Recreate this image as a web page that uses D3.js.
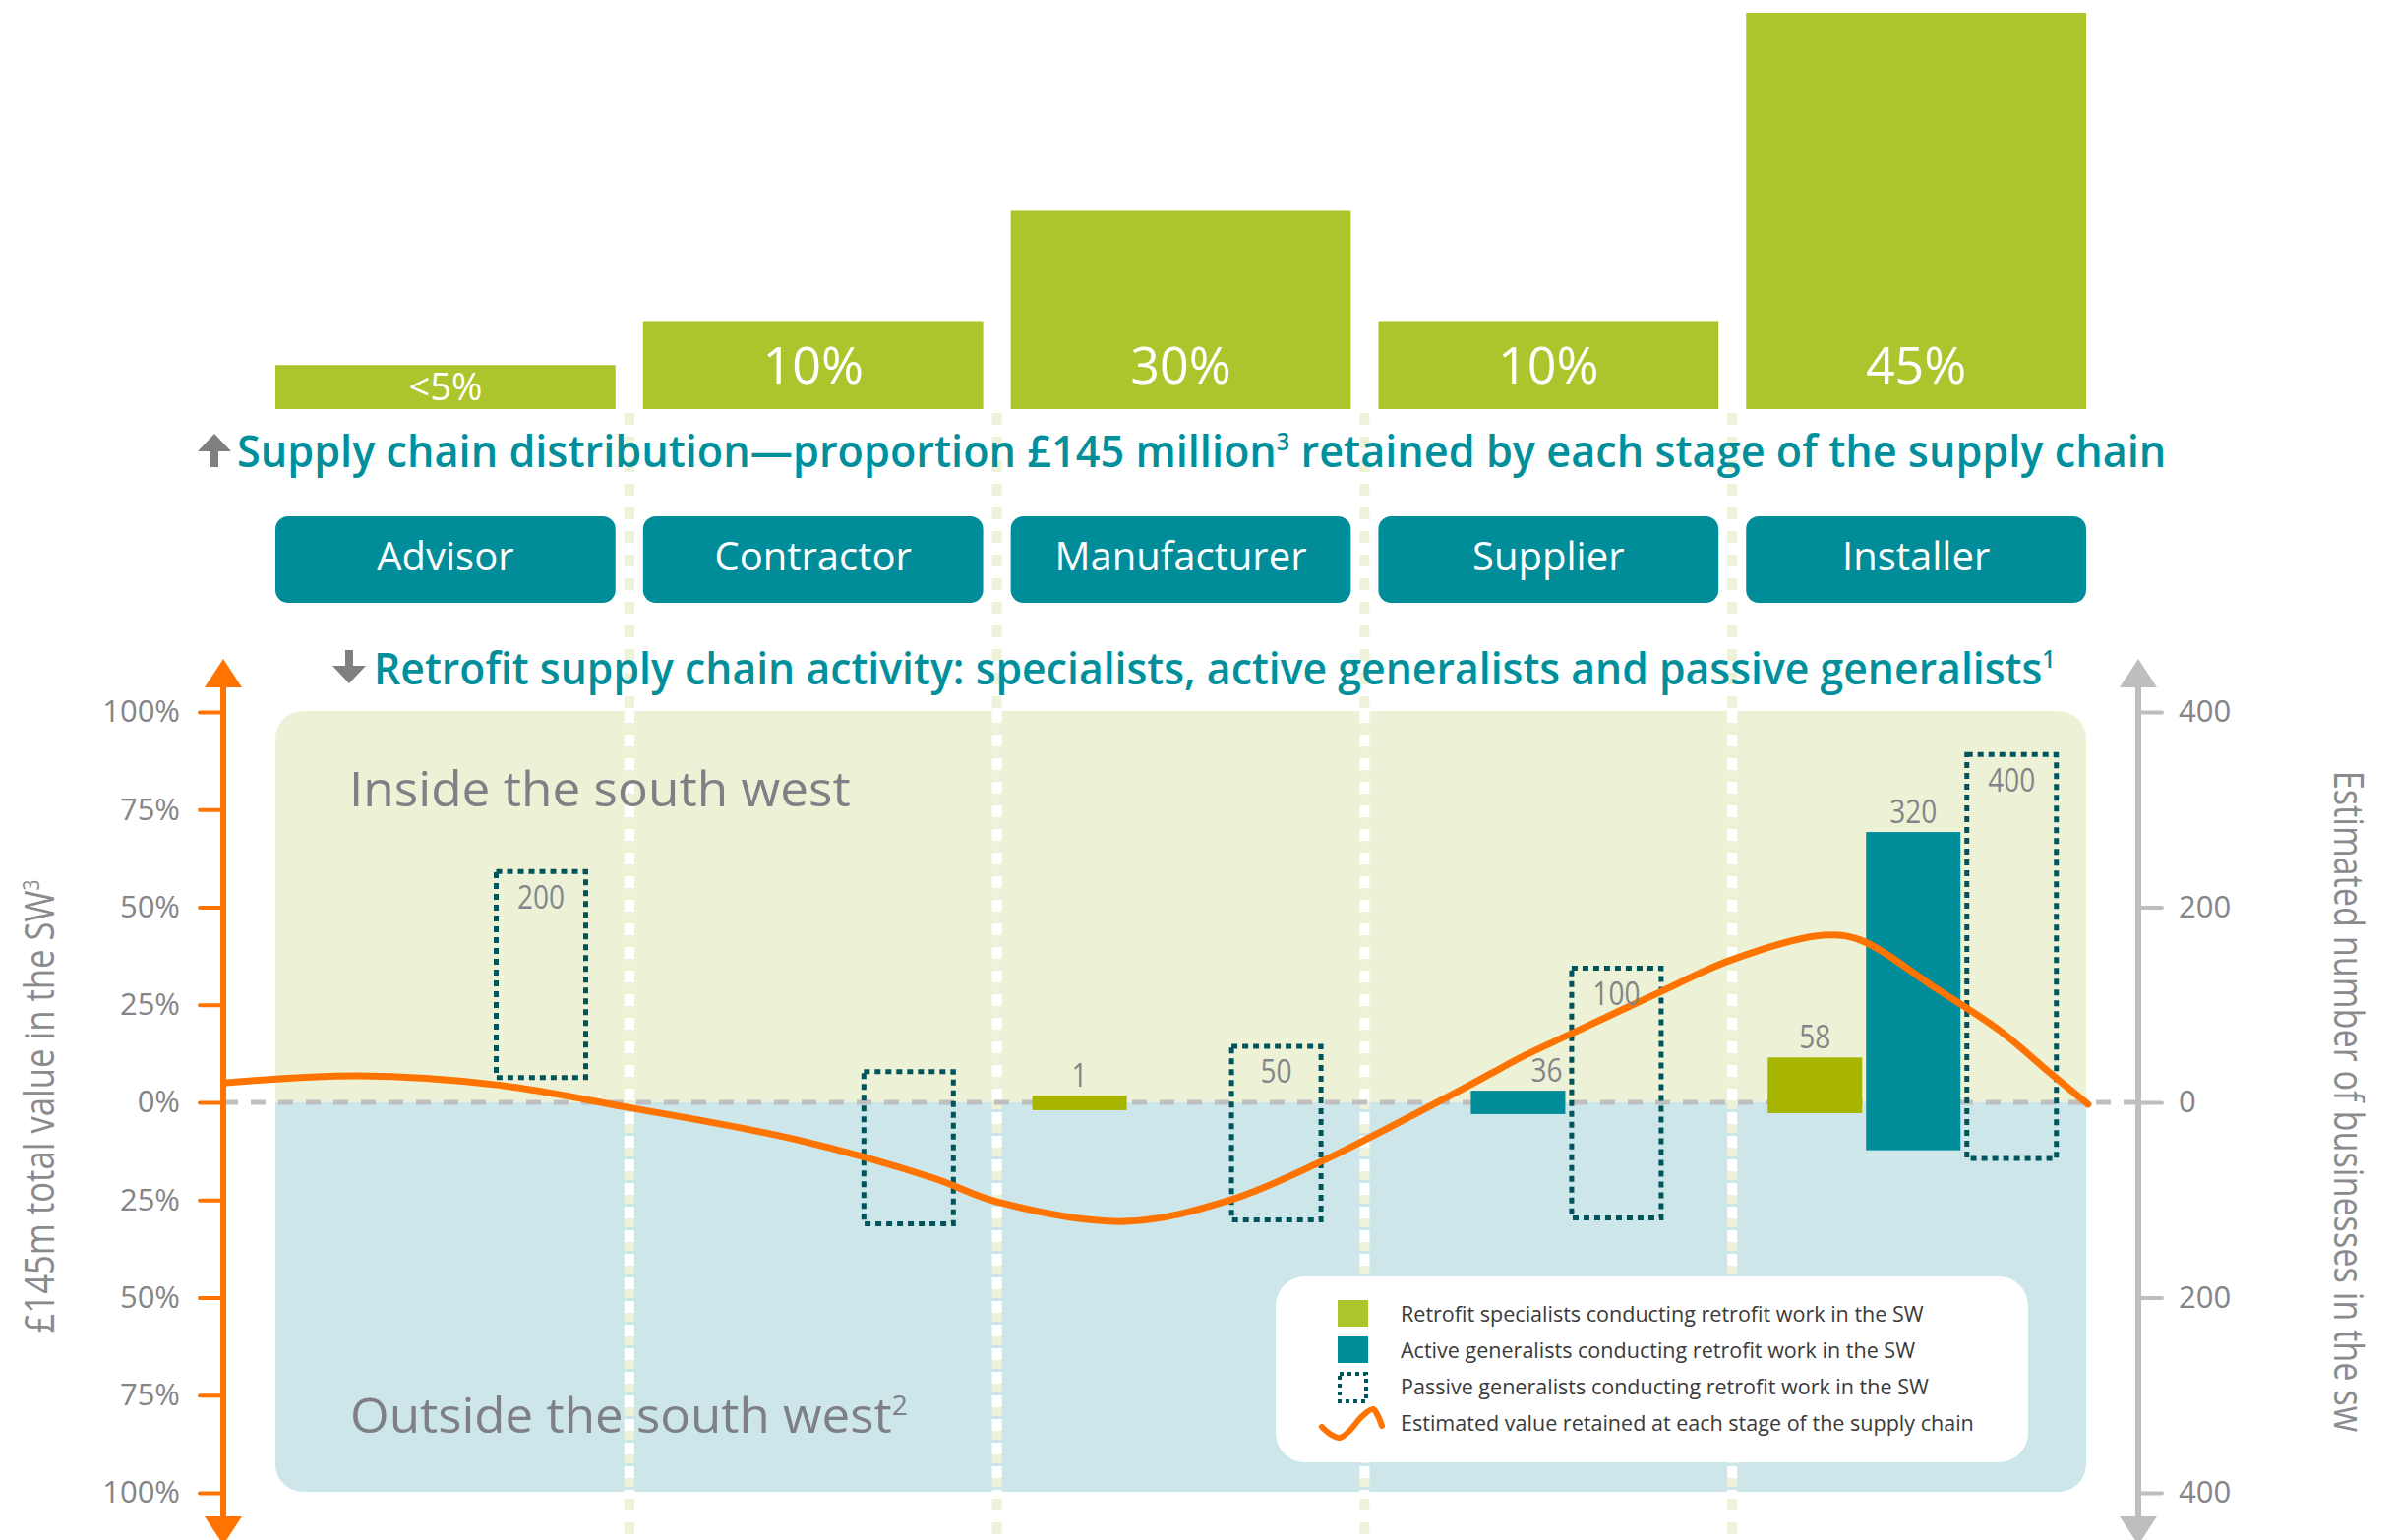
<!DOCTYPE html>
<html>
<head>
<meta charset="utf-8">
<script src="https://cdn.jsdelivr.net/npm/d3@7"></script>
<style>
  body { margin: 0; background: #fff; }
  svg { display: block; font-family: "Open Sans", sans-serif; }
</style>
</head>
<body>
<script>

// stages of the supply chain
var stages = ["Advisor", "Contractor", "Manufacturer", "Supplier", "Installer"];

// top chart - share of the £145m kept by each stage (bar heights as drawn)
var shareLabels = ["<5%", "10%", "30%", "10%", "45%"];
var shareBars = [5, 10, 22.5, 10, 45];

// lower chart - number of businesses, box top / bottom on the right axis
var specialistTop    = [null, null, 7, null, 46];
var specialistBottom = [null, null, -8, null, -11];
var specialistLabel  = [null, null, "1", null, "58"];

var activeTop    = [null, null, null, 12, 277];
var activeBottom = [null, null, null, -12, -49];
var activeLabel  = [null, null, null, "36", "320"];

var passiveTop    = [239, 34, 60, 140, 359];
var passiveBottom = [23, -127, -123, -121, -60];
var passiveLabel  = ["200", null, "50", "100", "400"];

// orange line - value retained, position along the chain (stage units) and %
var valuePos = [-0.14, 0.23, 0.6, 0.96, 1.42, 1.79, 1.96, 2.31, 2.6, 2.85, 2.97, 3.23, 3.4, 3.52, 3.76, 3.96, 4.21, 4.31, 4.52, 4.69, 4.83, 4.93];
var valuePct = [5.0, 6.8, 4.5, -1.3, -9.6, -19.4, -25.4, -30.5, -24.9, -14.9, -9.3, 3.5, 12.1, 17.4, 28.0, 36.5, 42.8, 41.6, 29.0, 18.4, 7.3, -0.5];

var pctTicks = [-100, -75, -50, -25, 0, 25, 50, 75, 100];
var bizTicks = [-400, -200, 0, 200, 400];

var legendLabels = [
  "Retrofit specialists conducting retrofit work in the SW",
  "Active generalists conducting retrofit work in the SW",
  "Passive generalists conducting retrofit work in the SW",
  "Estimated value retained at each stage of the supply chain"
];

var teal = "#008c99", tealDark = "#00555d", green = "#adc52d", greenDark = "#a8b500",
    orange = "#ff7300", grey = "#848589", titleTeal = "#008f9b";

var W = 2435, H = 1566;

var svg = d3.select("body").append("svg")
    .attr("width", W)
    .attr("height", H);

// scales
var x = d3.scaleBand().domain(stages).range([280, 2121]).paddingInner(0.075);
var xPos = d3.scaleLinear().domain([0, 5]).range([280, 280 + 5 * x.step()]);
var sub = d3.scaleBand().domain(["specialist", "active", "passive"]).range([22, 318]).paddingInner(0.04);
var yShare = d3.scaleLinear().domain([0, 45]).range([416, 13]);
var yPct = d3.scaleLinear().domain([-100, 100]).range([1518, 724]);
var yBiz = d3.scaleLinear().domain([-400, 400]).range([1518, 724]);

// the supplier pair sits a little left of the usual slots in the original,
// and its small label is pushed right, clear of the line
var groupNudge = { Supplier: -28 };
var labelNudge = { "Supplier-active": 29 };

var panelTop = 723, panelBottom = 1517, zeroY = yPct(0);

// squeeze a text horizontally so it is w wide (the original uses a condensed face)
function squeeze(sel, w) {
  sel.each(function() {
    var n = this.getComputedTextLength();
    if (!n) return;
    var tx = +this.getAttribute("x") || 0, ty = +this.getAttribute("y") || 0;
    d3.select(this).attr("transform",
      "translate(" + tx + "," + ty + ") scale(" + (w / n) + ",1) translate(" + (-tx) + "," + (-ty) + ")");
  });
}
function squeezeBy(sel, k) {
  sel.each(function() {
    var tx = +this.getAttribute("x") || 0, ty = +this.getAttribute("y") || 0;
    d3.select(this).attr("transform",
      "translate(" + tx + "," + ty + ") scale(" + k + ",1) translate(" + (-tx) + "," + (-ty) + ")");
  });
}
// text with a small raised footnote number
function withSup(sel, before, sup, after, size) {
  sel.append("tspan").text(before);
  sel.append("tspan")
      .attr("dy", -size * 0.36)
      .style("font-size", Math.round(size * 0.55) + "px")
      .text(sup);
  if (after) sel.append("tspan").attr("dy", size * 0.36).text(after);
}

// ---------- lower panel background ----------
var defs = svg.append("defs");
defs.append("clipPath").attr("id", "panelClip")
  .append("rect")
    .attr("x", x.range()[0]).attr("y", panelTop)
    .attr("width", x.range()[1] - x.range()[0]).attr("height", panelBottom - panelTop)
    .attr("rx", 28).attr("ry", 28);

var panel = svg.append("g").attr("clip-path", "url(#panelClip)");
panel.append("rect")
    .attr("x", 280).attr("y", panelTop).attr("width", 1841).attr("height", zeroY - panelTop)
    .style("fill", "#edf2d7");
panel.append("rect")
    .attr("x", 280).attr("y", zeroY).attr("width", 1841).attr("height", panelBottom - zeroY)
    .style("fill", "#cde6e9");

// ---------- dashed separators between stages ----------
var sepX = stages.slice(1).map(function(s) { return x(s) - x.step() * x.paddingInner() / 2; });
svg.selectAll(".sep-pale")
    .data(sepX)
  .enter().append("line")
    .attr("class", "sep-pale")
    .attr("x1", function(d) { return d; }).attr("x2", function(d) { return d; })
    .attr("y1", 420).attr("y2", H)
    .style("stroke", "#eef2d9").style("stroke-width", 10).style("stroke-dasharray", "12 12");
svg.selectAll(".sep-white")
    .data(sepX)
  .enter().append("line")
    .attr("class", "sep-white")
    .attr("x1", function(d) { return d; }).attr("x2", function(d) { return d; })
    .attr("y1", panelTop).attr("y2", panelBottom)
    .style("stroke", "#fff").style("stroke-width", 10).style("stroke-dasharray", "12 12");

// ---------- top: share bars ----------
svg.selectAll(".share")
    .data(stages)
  .enter().append("rect")
    .attr("class", "share")
    .attr("x", function(d) { return x(d); })
    .attr("y", function(d, i) { return yShare(shareBars[i]); })
    .attr("width", x.bandwidth())
    .attr("height", function(d, i) { return yShare(0) - yShare(shareBars[i]); })
    .style("fill", green);

svg.selectAll(".share-label")
    .data(stages)
  .enter().append("text")
    .attr("class", "share-label")
    .attr("x", function(d) { return x(d) + x.bandwidth() / 2; })
    .attr("y", function(d, i) { return shareBars[i] < 8 ? yShare(0) - 9 : yShare(0) - 26; })
    .style("text-anchor", "middle")
    .style("fill", "#fff")
    .style("font-size", function(d, i) { return shareBars[i] < 8 ? "38px" : "52px"; })
    .text(function(d, i) { return shareLabels[i]; });

// title arrows
svg.append("path")
    .attr("d", "M218,441 L235,459 L222,459 L222,475 L214,475 L214,459 L201,459 Z")
    .style("fill", "#808080");
svg.append("path")
    .attr("d", "M355,695 L372,677 L359,677 L359,661 L351,661 L351,677 L338,677 Z")
    .style("fill", "#808080");

var t1 = svg.append("text")
    .attr("x", 241).attr("y", 475)
    .style("fill", titleTeal).style("font-size", "46px").style("font-weight", 600);
withSup(t1, "Supply chain distribution\u2014proportion \u00a3145 million", "3",
  " retained by each stage of the supply chain", 46);
squeeze(t1, 1962);

// stage boxes
svg.selectAll(".stage")
    .data(stages)
  .enter().append("rect")
    .attr("class", "stage")
    .attr("x", function(d) { return x(d); })
    .attr("y", 525)
    .attr("width", x.bandwidth())
    .attr("height", 88)
    .attr("rx", 13).attr("ry", 13)
    .style("fill", teal);

svg.selectAll(".stage-label")
    .data(stages)
  .enter().append("text")
    .attr("class", "stage-label")
    .attr("x", function(d) { return x(d) + x.bandwidth() / 2; })
    .attr("y", 580)
    .style("text-anchor", "middle")
    .style("fill", "#fff")
    .style("font-size", "40px")
    .text(function(d) { return d; });

var t2 = svg.append("text")
    .attr("x", 380).attr("y", 696)
    .style("fill", titleTeal).style("font-size", "46px").style("font-weight", 600);
withSup(t2, "Retrofit supply chain activity: specialists, active generalists and passive generalists", "1", null, 46);
squeeze(t2, 1710);

// panel captions
var inside = svg.append("text")
    .attr("x", 355).attr("y", 820)
    .style("fill", "#7f8085").style("font-size", "49px")
    .text("Inside the south west");
squeeze(inside, 510);
var outside = svg.append("text")
    .attr("x", 356).attr("y", 1457)
    .style("fill", "#7f8085").style("font-size", "49px");
withSup(outside, "Outside the south west", "2", null, 49);
squeeze(outside, 567);

// zero line
svg.append("line")
    .attr("x1", 227).attr("x2", 2174)
    .attr("y1", zeroY).attr("y2", zeroY)
    .style("stroke", "#bfbfbf").style("stroke-width", 5).style("stroke-dasharray", "15 13");

// ---------- business bars ----------
function series(tops, bottoms, labels, key) {
  return stages.map(function(s, i) {
    return { stage: s, top: tops[i], bottom: bottoms[i], label: labels[i], key: key };
  }).filter(function(d) { return d.top !== null; });
}
var specialists = series(specialistTop, specialistBottom, specialistLabel, "specialist");
var actives = series(activeTop, activeBottom, activeLabel, "active");
var passives = series(passiveTop, passiveBottom, passiveLabel, "passive");

function bx(d) { return x(d.stage) + sub(d.key) + (groupNudge[d.stage] || 0); }

svg.selectAll(".spec")
    .data(specialists)
  .enter().append("rect")
    .attr("class", "spec")
    .attr("x", bx)
    .attr("y", function(d) { return yBiz(d.top); })
    .attr("width", sub.bandwidth())
    .attr("height", function(d) { return yBiz(d.bottom) - yBiz(d.top); })
    .style("fill", greenDark);

svg.selectAll(".active")
    .data(actives)
  .enter().append("rect")
    .attr("class", "active")
    .attr("x", bx)
    .attr("y", function(d) { return yBiz(d.top); })
    .attr("width", sub.bandwidth())
    .attr("height", function(d) { return yBiz(d.bottom) - yBiz(d.top); })
    .style("fill", teal);

svg.selectAll(".passive")
    .data(passives)
  .enter().append("rect")
    .attr("class", "passive")
    .attr("x", function(d) { return bx(d) + 2.5; })
    .attr("y", function(d) { return yBiz(d.top) + 2.5; })
    .attr("width", sub.bandwidth() - 5)
    .attr("height", function(d) { return yBiz(d.bottom) - yBiz(d.top) - 5; })
    .style("fill", "none")
    .style("stroke", tealDark).style("stroke-width", 5).style("stroke-dasharray", "6 5");

// ---------- axes ----------
var leftAxis = svg.append("g")
    .attr("class", "y axis pct")
    .attr("transform", "translate(227,0)")
    .call(d3.axisLeft(yPct).tickValues(pctTicks).tickSize(24).tickPadding(20)
      .tickFormat(function(d) { return Math.abs(d) + "%"; }));
leftAxis.select(".domain").remove();
leftAxis.selectAll(".tick line").style("stroke", orange).style("stroke-width", 4).style("stroke-linecap", "round");
leftAxis.selectAll(".tick text").style("fill", grey).style("font-size", "31px").style("font-family", "'Open Sans', sans-serif");

var rightAxis = svg.append("g")
    .attr("class", "y axis biz")
    .attr("transform", "translate(2174,0)")
    .call(d3.axisRight(yBiz).tickValues(bizTicks).tickSize(24).tickPadding(17)
      .tickFormat(function(d) { return Math.abs(d); }));
rightAxis.select(".domain").remove();
rightAxis.selectAll(".tick line").style("stroke", "#bebebe").style("stroke-width", 4).style("stroke-linecap", "round");
rightAxis.selectAll(".tick text").style("fill", grey).style("font-size", "31px").style("font-family", "'Open Sans', sans-serif");

function axisLine(cx, color) {
  svg.append("line")
      .attr("x1", cx).attr("x2", cx).attr("y1", 697).attr("y2", 1544)
      .style("stroke", color).style("stroke-width", 6);
  svg.append("path")
      .attr("d", "M" + (cx - 19) + ",699 L" + cx + ",670 L" + (cx + 19) + ",699 Z")
      .style("fill", color);
  svg.append("path")
      .attr("d", "M" + (cx - 19) + ",1542 L" + cx + ",1571 L" + (cx + 19) + ",1542 Z")
      .style("fill", color);
}
axisLine(227, orange);
axisLine(2174, "#bebebe");

// axis titles
var leftTitle = svg.append("g").attr("transform", "translate(55,1125) rotate(-90)")
  .append("text")
    .attr("x", 0).attr("y", 0)
    .style("text-anchor", "middle").style("fill", "#8a8b8f").style("font-size", "42px");
withSup(leftTitle, "\u00a3145m total value in the SW", "3", null, 42);
squeeze(leftTitle, 461);

var rightTitle = svg.append("g").attr("transform", "translate(2373,1120) rotate(90)")
  .append("text")
    .attr("x", 0).attr("y", 0)
    .style("text-anchor", "middle").style("fill", "#8a8b8f").style("font-size", "42px")
    .text("Estimated number of businesses in the sw");
squeeze(rightTitle, 673);

// ---------- value line ----------
var valueData = valuePos.map(function(p, i) { return [p, valuePct[i]]; });
var line = d3.line()
    .x(function(d) { return xPos(d[0]); })
    .y(function(d) { return yPct(d[1]); })
    .curve(d3.curveCatmullRom.alpha(0.5));

svg.append("path")
    .datum(valueData)
    .attr("d", line)
    .style("fill", "none")
    .style("stroke", orange)
    .style("stroke-width", 7)
    .style("stroke-linecap", "round");

// bar value labels (drawn over the line)
var barLabels = svg.selectAll(".bar-label")
    .data(specialists.concat(actives, passives).filter(function(d) { return d.label; }))
  .enter().append("text")
    .attr("class", "bar-label")
    .attr("x", function(d) { return bx(d) + sub.bandwidth() / 2 + (labelNudge[d.stage + "-" + d.key] || 0); })
    .attr("y", function(d) { return d.key === "passive" ? yBiz(d.top) + 40 : yBiz(d.top) - 9; })
    .style("text-anchor", "middle")
    .style("fill", grey)
    .style("font-size", "33px")
    .text(function(d) { return d.label; });
squeezeBy(barLabels, 0.85);

// ---------- legend ----------
var legend = svg.append("g").attr("class", "legend");
legend.append("rect")
    .attr("x", 1297).attr("y", 1298).attr("width", 765).attr("height", 189)
    .attr("rx", 30).attr("ry", 30)
    .style("fill", "#fff");

var rowY = function(i) { return 1336 + i * 37; };

legend.append("rect").attr("x", 1360).attr("y", rowY(0) - 14).attr("width", 31).attr("height", 27).style("fill", green);
legend.append("rect").attr("x", 1360).attr("y", rowY(1) - 14).attr("width", 31).attr("height", 27).style("fill", teal);
legend.append("rect").attr("x", 1362).attr("y", rowY(2) - 13).attr("width", 27).attr("height", 28)
    .style("fill", "none").style("stroke", tealDark).style("stroke-width", 4).style("stroke-dasharray", "4 4");

var squiggle = [[0, 18], [8, 25], [18, 29], [28, 22], [41, 7], [52, 0], [57, 7], [61, 17]];
legend.append("path")
    .datum(squiggle)
    .attr("d", d3.line()
      .x(function(d) { return 1344 + d[0]; })
      .y(function(d) { return rowY(3) - 14 + d[1]; })
      .curve(d3.curveCatmullRom))
    .style("fill", "none").style("stroke", orange).style("stroke-width", 6).style("stroke-linecap", "round");

var legendText = legend.selectAll(".legend-text")
    .data(legendLabels)
  .enter().append("text")
    .attr("class", "legend-text")
    .attr("x", 1424)
    .attr("y", function(d, i) { return rowY(i) + 8; })
    .style("fill", "#3a3a3a")
    .style("font-size", "21px")
    .text(function(d) { return d; });

var firstLen = legendText.node().getComputedTextLength();
squeezeBy(legendText, 532 / firstLen);

</script>
</body>
</html>
